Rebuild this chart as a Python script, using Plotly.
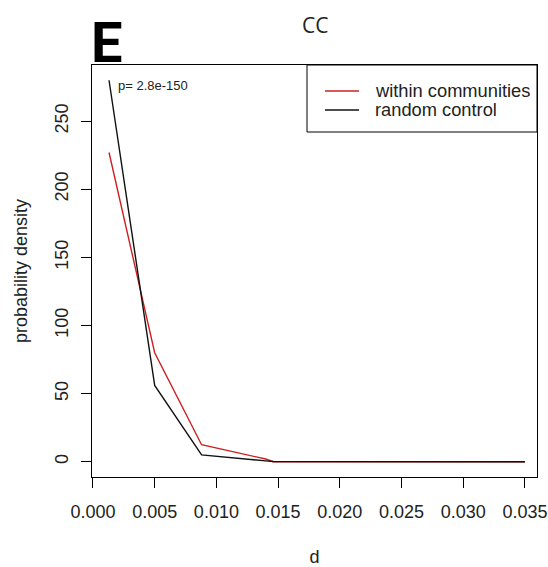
import plotly.graph_objects as go

# Distance values (d) at which the densities were evaluated
d_values = [0.0013, 0.0050, 0.0088, 0.0113, 0.0128, 0.0140, 0.0146, 0.0200, 0.0250, 0.0300, 0.0350]

# Probability density of d for each group
within_density = [227, 80, 12.5, 7.3, 4.3, 2.0, 0.0, 0.0, 0.0, 0.0, 0.0]
random_density = [280, 56, 5.0, 2.7, 1.2, 0.6, 0.2, 0.0, 0.0, 0.0, 0.0]

series_names = ["within communities", "random control"]
series_colors = ["#cc2020", "#111111"]

x_ticks = [0.000, 0.005, 0.010, 0.015, 0.020, 0.025, 0.030, 0.035]
y_ticks = [0, 50, 100, 150, 200, 250]

panel_letter = "E"
panel_title = "CC"
p_label = "p= 2.8e-150"

W, H = 548, 567
L, R, T, B = 92, 11, 65, 90
PW, PH = W - L - R, H - T - B


def px_x(px):
    return (px - L) / PW


def px_y(py):
    return (H - B - py) / PH


fig = go.Figure()
for name, ys, col in zip(series_names, [within_density, random_density], series_colors):
    fig.add_trace(go.Scatter(x=d_values, y=ys, mode="lines", name=name,
                             line=dict(color=col, width=1.4), showlegend=False))

FONT = "Liberation Sans, Arial, sans-serif"
axis_font = dict(family=FONT, size=18, color="#222")

fig.update_layout(
    width=W, height=H,
    margin=dict(l=L, r=R, t=T, b=B, pad=0, autoexpand=False),
    paper_bgcolor="white", plot_bgcolor="white",
    xaxis=dict(range=[-0.00008, 0.03598], tickvals=x_ticks, tickformat=".3f",
               ticks="outside", ticklen=10, tickwidth=1, tickcolor="black",
               showline=True, linecolor="black", linewidth=1, mirror=True,
               showgrid=False, zeroline=False, tickfont=axis_font,
               ticklabelstandoff=8, automargin=False,
               title=dict(text="d", font=dict(family=FONT, size=18, color="#222"),
                          standoff=30)),
    yaxis=dict(range=[-11.2, 291.2], tickvals=y_ticks, tickangle=-90,
               ticks="outside", ticklen=10, tickwidth=1, tickcolor="black",
               showline=True, linecolor="black", linewidth=1, mirror=True,
               showgrid=False, zeroline=False, tickfont=axis_font,
               ticklabelstandoff=6, automargin=False,
               title=dict(text="probability density",
                          font=dict(family=FONT, size=18, color="#222"),
                          standoff=19)),
)

# Legend box in the top-right corner of the plot
fig.add_shape(type="rect", xref="paper", yref="paper",
              x0=px_x(307), x1=1, y0=px_y(132), y1=1,
              line=dict(color="black", width=1), fillcolor="rgba(0,0,0,0)")
for i, (name, col) in enumerate(zip(series_names, series_colors)):
    ly = px_y(91 + 19 * i)
    fig.add_shape(type="line", xref="paper", yref="paper",
                  x0=px_x(325), x1=px_x(359), y0=ly, y1=ly,
                  line=dict(color=col, width=1.4))
    fig.add_annotation(text=name, xref="paper", yref="paper", x=px_x(373), y=ly,
                       xanchor="left", yanchor="middle", showarrow=False,
                       font=dict(family=FONT, size=18.3, color="#222"))

# p-value note
fig.add_annotation(text=p_label, xref="paper", yref="paper", x=px_x(116), y=px_y(85),
                   xanchor="left", yanchor="middle", showarrow=False,
                   font=dict(family=FONT, size=13, color="#222"))

# Title and panel letter
fig.add_annotation(text=panel_title, xref="paper", yref="paper", x=px_x(315), y=px_y(25),
                   xanchor="center", yanchor="middle", showarrow=False,
                   font=dict(family="Open Sans, sans-serif", size=21, color="#222"))
fig.add_annotation(text="<b>" + panel_letter + "</b>", xref="paper", yref="paper", x=px_x(89), y=px_y(43),
                   xanchor="left", yanchor="middle", showarrow=False,
                   font=dict(family="Roboto, sans-serif", size=56, color="black"))

fig.write_html("out.html")
